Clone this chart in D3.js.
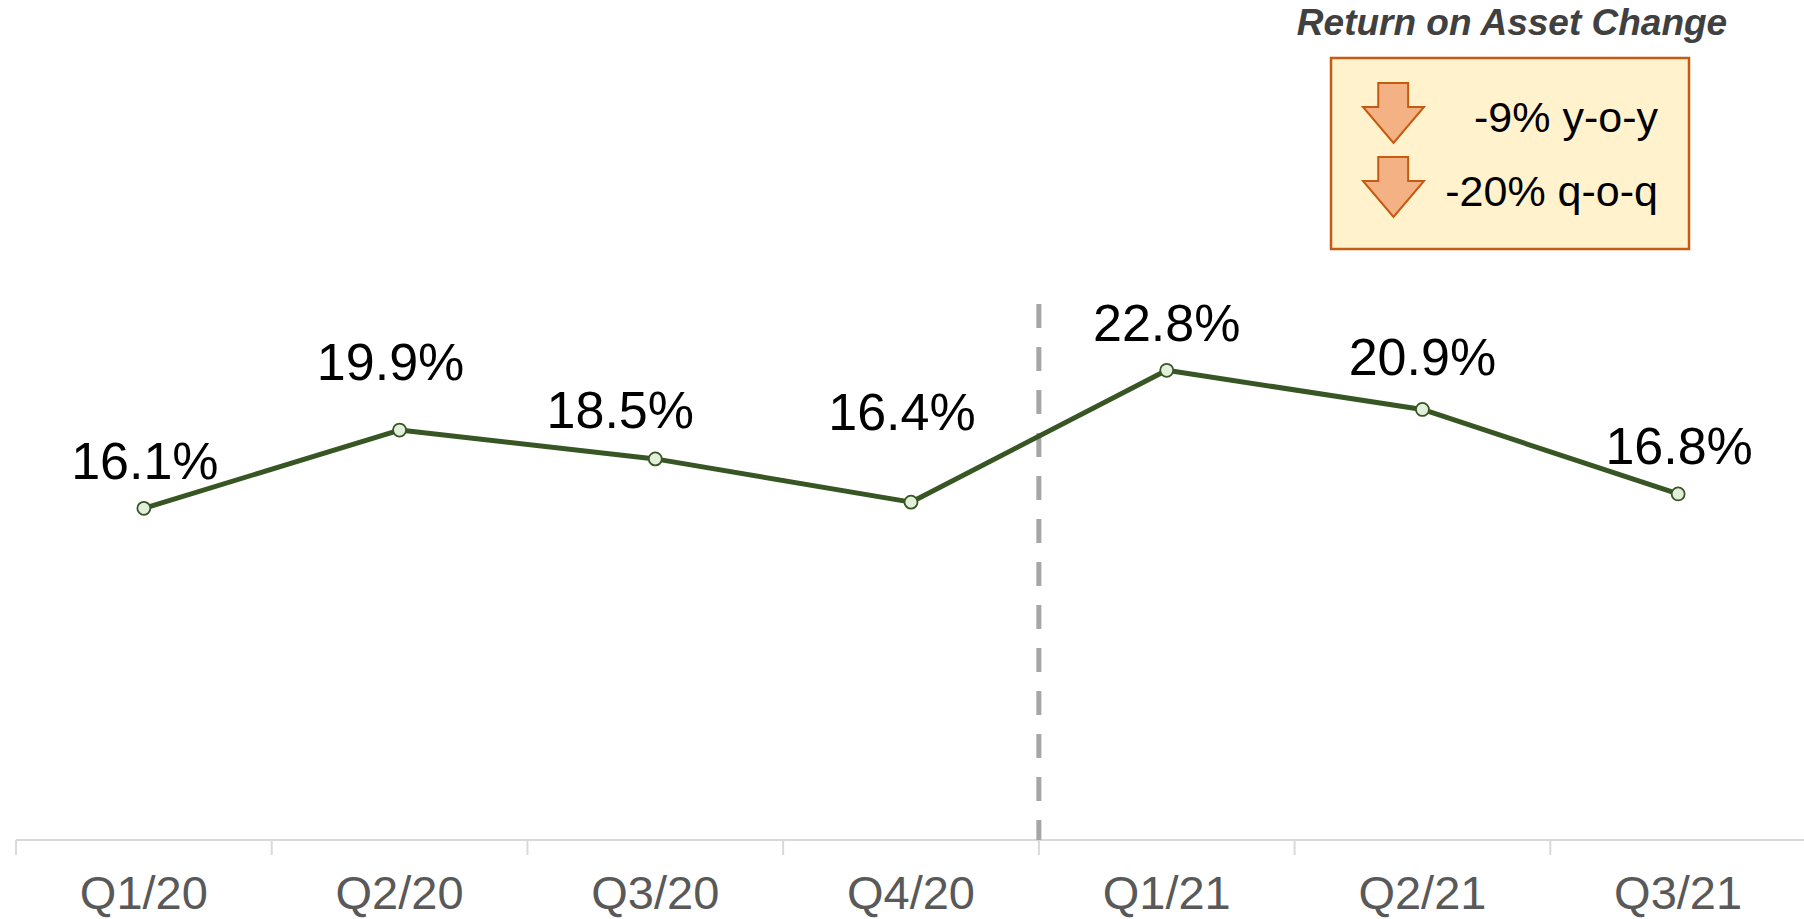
<!DOCTYPE html>
<html>
<head>
<meta charset="utf-8">
<script src="https://cdn.jsdelivr.net/npm/d3@7"></script>
<style>
  html, body { margin: 0; padding: 0; background: #fff; }
  svg { display: block; font-family: Arial, "Liberation Sans", sans-serif; }
</style>
</head>
<body>
<svg id="chart"></svg>
<script>
const width  = 1804
const height = 919

// data
const quarters = ["Q1/20", "Q2/20", "Q3/20", "Q4/20", "Q1/21", "Q2/21", "Q3/21"]
const roaValues = [16.1, 19.9, 18.5, 16.4, 22.8, 20.9, 16.8]
const changeValues = [-9, -20]
const changeLabels = ["y-o-y", "q-o-q"]
const legendTitle = "Return on Asset Change"

// hand placed label nudges (dx, dy from the point)
const labelNudge = [[1, -29], [-9, -50], [-35, -31], [-9, -72], [0, -29], [0, -34], [1, -30]]

const svg = d3.select("#chart")
    .attr("width", width)
    .attr("height", height)

const x = d3.scaleBand()
    .domain(quarters)
    .range([16, 1806])

const y = d3.scaleLinear()
    .domain([0, 40])
    .range([840, 16])

const axisY = y(0)

// x axis line + ticks at band edges
svg.append("line")
    .attr("x1", 16).attr("x2", width)
    .attr("y1", axisY).attr("y2", axisY)
    .style("stroke", "#d9d9d9")
    .style("stroke-width", 2)

svg.append("g")
    .selectAll("line")
    .data(quarters)
    .enter().append("line")
    .attr("x1", d => x(d))
    .attr("x2", d => x(d))
    .attr("y1", axisY)
    .attr("y2", axisY + 15)
    .style("stroke", "#d9d9d9")
    .style("stroke-width", 2)

svg.append("g")
    .selectAll("text")
    .data(quarters)
    .enter().append("text")
    .attr("x", d => x(d) + x.bandwidth() / 2)
    .attr("y", 909)
    .attr("text-anchor", "middle")
    .style("font-size", "47px")
    .style("fill", "#595959")
    .text(d => d)

// dashed divider between 2020 and 2021
const splitX = x("Q1/21")
svg.append("line")
    .attr("x1", splitX).attr("x2", splitX)
    .attr("y1", 304).attr("y2", axisY)
    .style("stroke", "#a6a6a6")
    .style("stroke-width", 5)
    .style("stroke-dasharray", "24,19")

// the line
const line = d3.line()
    .x((d, i) => x(quarters[i]) + x.bandwidth() / 2)
    .y(d => y(d))

svg.append("path")
    .datum(roaValues)
    .attr("d", line)
    .style("fill", "none")
    .style("stroke", "#375623")
    .style("stroke-width", 5)
    .style("stroke-linejoin", "round")

svg.append("g")
    .selectAll("circle")
    .data(roaValues)
    .enter().append("circle")
    .attr("cx", (d, i) => x(quarters[i]) + x.bandwidth() / 2)
    .attr("cy", d => y(d))
    .attr("r", 6.5)
    .style("fill", "#e2efda")
    .style("stroke", "#375623")
    .style("stroke-width", 1.8)

svg.append("g")
    .selectAll("text")
    .data(roaValues)
    .enter().append("text")
    .attr("x", (d, i) => x(quarters[i]) + x.bandwidth() / 2 + labelNudge[i][0])
    .attr("y", (d, i) => y(d) + labelNudge[i][1])
    .attr("text-anchor", "middle")
    .style("font-size", "52px")
    .style("fill", "#000")
    .text(d => d.toFixed(1) + "%")

// legend box, top right
svg.append("text")
    .attr("x", 1512)
    .attr("y", 35)
    .attr("text-anchor", "middle")
    .style("font-size", "37px")
    .style("font-weight", "bold")
    .style("font-style", "italic")
    .style("fill", "#404040")
    .text(legendTitle)

svg.append("rect")
    .attr("x", 1331).attr("y", 58)
    .attr("width", 358).attr("height", 191)
    .style("fill", "#fff2cc")
    .style("stroke", "#c55a11")
    .style("stroke-width", 2.5)

const arrowW = 61, arrowH = 60
const arrowPath = (x0, y0) => {
    const p = d3.path()
    p.moveTo(x0 + arrowW * 0.25, y0)
    p.lineTo(x0 + arrowW * 0.74, y0)
    p.lineTo(x0 + arrowW * 0.74, y0 + arrowH * 0.4)
    p.lineTo(x0 + arrowW, y0 + arrowH * 0.4)
    p.lineTo(x0 + arrowW / 2, y0 + arrowH)
    p.lineTo(x0, y0 + arrowH * 0.4)
    p.lineTo(x0 + arrowW * 0.25, y0 + arrowH * 0.4)
    p.closePath()
    return p.toString()
}

const legendRows = svg.append("g")
    .selectAll("g")
    .data(changeValues)
    .enter().append("g")

legendRows.append("path")
    .attr("d", (d, i) => arrowPath(1363, 83 + i * 74))
    .style("fill", "#f4b183")
    .style("stroke", "#c55a11")
    .style("stroke-width", 2)

legendRows.append("text")
    .attr("x", 1658)
    .attr("y", (d, i) => 132 + i * 74)
    .attr("text-anchor", "end")
    .style("font-size", "43px")
    .style("fill", "#000")
    .text((d, i) => d + "% " + changeLabels[i])
</script>
</body>
</html>
